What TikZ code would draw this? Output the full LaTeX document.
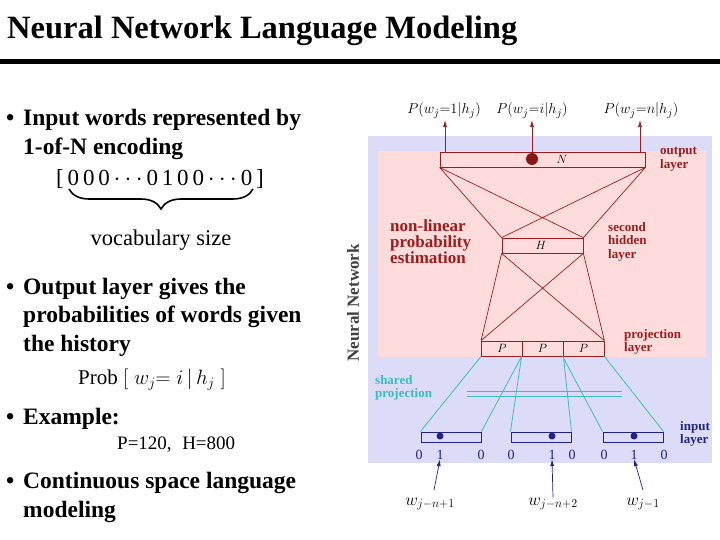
\documentclass[tikz,border=0pt]{standalone}
\usepackage{fontspec}
\setmainfont{Liberation Serif}
\usetikzlibrary{decorations.pathreplacing,arrows.meta}
\definecolor{dred}{HTML}{A01C1C}
\definecolor{teal2}{HTML}{3CBCC0}
\definecolor{navy}{HTML}{22228A}
\definecolor{bgblue}{HTML}{DCDCF8}
\definecolor{bgpink}{HTML}{FFDCDC}
\tikzset{
 bul/.style={anchor=base west,font=\fontsize{23.5}{26}\selectfont\bfseries,inner sep=0},
 lay/.style={draw=dred,line width=0.8pt,inner sep=0,minimum height=15pt},
 inb/.style={draw=navy,line width=1pt,fill=bgblue,inner sep=0,minimum height=10pt,minimum width=60pt},
 lbl/.style={font=\fontsize{13}{13.5}\selectfont\bfseries,align=left,anchor=north west,inner sep=0},
 red/.style={draw=dred,line width=0.7pt},
 tl/.style={draw=teal2,line width=0.8pt},
 ar/.style={-{Latex[length=7pt,width=4pt]},line width=0.7pt},
 mlab/.style={inner sep=0,anchor=base,font=\fontsize{15}{15}\selectfont},
}
\begin{document}
\begin{tikzpicture}[x=1pt,y=-1pt]
\useasboundingbox (0,0) rectangle (720,540);
\node[anchor=base west,inner sep=0,font=\fontsize{32.5}{34}\selectfont\bfseries] (title) at (7,39) {Neural Network Language Modeling};
\fill (0,59) rectangle (720,64);
% left text
\node[bul] (b1) at (6,126) {•};
\node[bul] (t1) at (23,126) {Input words represented by};
\node[bul] (t2) at (23,155) {1-of-N encoding};
\node[anchor=base,inner sep=0,font=\fontsize{23}{24}\selectfont] (vec) at (160,186) {[\,0\,0\,0\,$\cdots$\,0\,1\,0\,0\,$\cdots$\,0\,]};
\draw[line width=1.6pt,decoration={brace,mirror,amplitude=20pt,aspect=0.5},decorate] (69,189) -- (253,189);
\node[anchor=base,inner sep=0,font=\fontsize{22.5}{24}\selectfont] (voc) at (161,245) {vocabulary size};
\node[bul] (b2) at (6,294) {•};
\node[bul] (t3) at (23,294) {Output layer gives the};
\node[bul] (t4) at (23,322) {probabilities of words given};
\node[bul] (t5) at (23,351) {the history};
\node[anchor=base west,inner sep=0,font=\fontsize{21}{24}\selectfont] (prob) at (78,384) {Prob $\left[\;w_j{=}\;i\,\middle|\,h_j\vphantom{\Big|}\;\right]$};
\node[bul] (b3) at (6,424) {•};
\node[bul] (t6) at (23,424) {Example:};
\node[anchor=base west,inner sep=0,font=\fontsize{19}{20}\selectfont] (ex) at (117,449) {P=120,\;\;H=800};
\node[bul] (b4) at (6,488) {•};
\node[bul] (t7) at (23,488) {Continuous space language};
\node[bul] (t8) at (23,517) {modeling};
% diagram backgrounds
\fill[bgblue] (368,136) rectangle (712,463);
\fill[bgpink] (378,151) rectangle (706,357);
\node[rotate=90,inner sep=0,font=\fontsize{17}{17}\selectfont\bfseries,text=black!75] (nn) at (353,303) {Neural Network};
% output layer
\node[lay,fill=bgpink,minimum width=205pt] (out) at (542.5,159.5) {};
\node[font=\fontsize{13}{13}\selectfont,inner sep=0] (N) at (562,159.5) {$N$};
\fill[dred!85!black] (532,159) circle (6);
\node[lay,fill=bgpink,minimum width=81pt] (hid) at (542.5,245.5) {};
\node[font=\fontsize{13}{13}\selectfont,inner sep=0] (H) at (541,245.5) {$H$};
\node[lay,fill=bgpink,minimum width=41pt] (p1) at (502,348.5) {};
\node[lay,fill=bgpink,minimum width=41pt] (p2) at (542.5,348.5) {};
\node[lay,fill=bgpink,minimum width=41pt] (p3) at (583.5,348.5) {};
\node[inner sep=0,font=\fontsize{13}{13}\selectfont] (pl1) at (502,348.5) {$P$};
\node[inner sep=0,font=\fontsize{13}{13}\selectfont] (pl2) at (542.5,348.5) {$P$};
\node[inner sep=0,font=\fontsize{13}{13}\selectfont] (pl3) at (583.5,348.5) {$P$};
\draw[red] (out.south west) -- (hid.north west) (out.south west) -- (hid.north east)
 (out.south east) -- (hid.north west) (out.south east) -- (hid.north east);
\draw[red] (hid.south west) -- (p1.north west) (hid.south west) -- (p3.north east)
 (hid.south east) -- (p1.north west) (hid.south east) -- (p3.north east);
% output arrows
\coordinate (a1) at (445,120); \coordinate (a2) at (532,120); \coordinate (a3) at (640,120);
\draw[ar,dred] (out.north west -| a1) -- (a1);
\draw[ar,dred] (out.north -| a2) -- (a2);
\draw[ar,dred] (out.north -| a3) -- (a3);
\node[mlab] (o1) at (444,114) {$P(w_j{=}1|h_j)$};
\node[mlab] (o2) at (532,114) {$P(w_j{=}i|h_j)$};
\node[mlab] (o3) at (641,114) {$P(w_j{=}n|h_j)$};
% labels
\node[lbl,text=dred] (ol) at (660,147) {output\\layer};
\node[lbl,text=dred,font=\fontsize{17}{16}\selectfont\bfseries] (nl) at (390,220) {non-linear\\probability\\estimation};
\node[lbl,text=dred] (sl) at (608,222) {second\\hidden\\layer};
\node[lbl,text=dred] (pjl) at (624,329) {projection\\layer};
\node[lbl,text=teal2] (shl) at (375,375) {shared\\projection};
\node[lbl,text=navy] (il) at (680,421) {input\\layer};
% input boxes
\node[inb] (i1) at (451,437) {};
\node[inb] (i2) at (541,437) {};
\node[inb] (i3) at (633,437) {};
\fill[navy] (440,436) circle (3.5) (552,436) circle (3.5) (634,436) circle (3.5);
\draw[tl] (p1.south west) -- (i1.north west) (p2.south west) -- (i1.north east)
 (p2.south west) -- (i2.north west) (p2.south east) -- (i2.north east)
 (p3.south west) -- (i3.north west) (p3.south east) -- (i3.north east);
\draw[tl] (467,391) -- (622,391) (467,396) -- (622,396);
\foreach \x/\v [count=\k] in {419/0,440/1,481/0,511/0,552/1,572/0,604/0,634/1,664/0}
  \node[inner sep=0,anchor=base,text=navy,font=\fontsize{14}{14}\selectfont] (d\k) at (\x,459) {\v};
\node[mlab,font=\fontsize{17}{17}\selectfont] (w1) at (430,505) {$w_{j-n+1}$};
\node[mlab,font=\fontsize{17}{17}\selectfont] (w2) at (553,505) {$w_{j-n+2}$};
\node[mlab,font=\fontsize{17}{17}\selectfont] (w3) at (643,505) {$w_{j-1}$};
\draw[ar,navy] (434,490) -- (d2.south);
\draw[ar,navy] (w2.north) -- (d5.south);
\draw[ar,navy] (643,490) -- (d8.south);
\end{tikzpicture}
\end{document}
